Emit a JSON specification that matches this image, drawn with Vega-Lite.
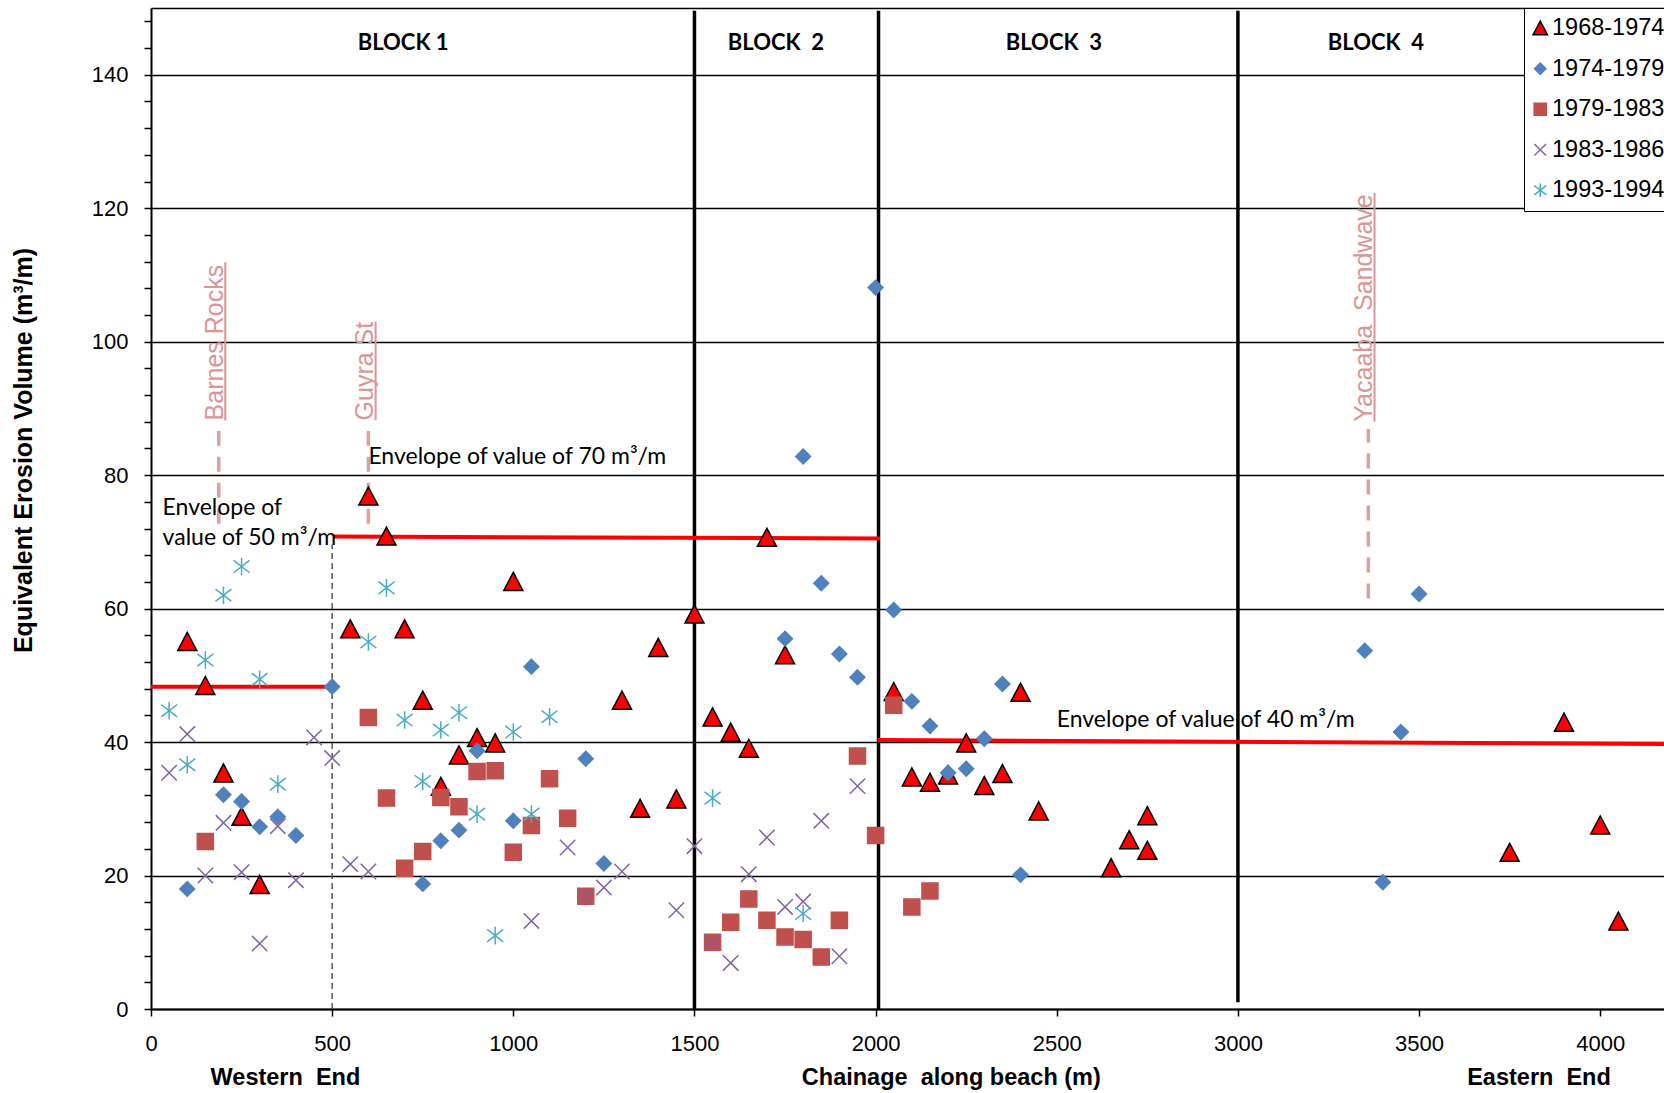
{
  "$schema": "https://vega.github.io/schema/vega-lite/v6.json",
  "width": 1513,
  "height": 1001,
  "autosize": {"type": "none"},
  "padding": {"left": 151, "top": 8, "right": 0, "bottom": 84},
  "background": "white",
  "config": {
    "view": {"stroke": null},
    "legend": {
      "labelFont": "Liberation Sans",
      "labelFontSize": 23.5,
      "labelColor": "black",
      "symbolSize": 230,
      "symbolStrokeWidth": 1.5,
      "symbolOpacity": 1,
      "symbolOffset": -4,
      "padding": 8.5,
      "rowPadding": 15.5,
      "labelOffset": 0,
      "fillColor": "white",
      "strokeColor": "black",
      "labelLimit": 300
    }
  },
  "encoding": {
    "x": {
      "field": "x",
      "type": "quantitative",
      "scale": {"domain": [0, 4176], "nice": false, "zero": false},
      "axis": {
        "title": null,
        "values": [0, 500, 1000, 1500, 2000, 2500, 3000, 3500, 4000],
        "format": "d",
        "grid": false,
        "tickSize": 7,
        "tickWidth": 1.5,
        "tickColor": "black",
        "domainColor": "black",
        "domainWidth": 2,
        "labelFont": "Liberation Sans",
        "labelFontSize": 22,
        "labelColor": "black",
        "labelPadding": 17,
        "labelFlush": false,
        "labelOverlap": false
      }
    },
    "y": {
      "field": "y",
      "type": "quantitative",
      "scale": {"domain": [0, 150], "nice": false, "zero": false},
      "axis": {
        "title": "Equivalent Erosion Volume (m³/m)",
        "titleFont": "Liberation Sans",
        "titleFontWeight": "bold",
        "titleFontSize": 25,
        "titleColor": "black",
        "titleAngle": 270,
        "titleX": -120,
        "titleY": 442,
        "titleAlign": "center",
        "titleBaseline": "alphabetic",
        "values": [0,4,8,12,16,20,24,28,32,36,40,44,48,52,56,60,64,68,72,76,80,84,88,92,96,100,104,108,112,116,120,124,128,132,136,140,144,148,150],
        "labelExpr": "datum.value % 20 === 0 ? datum.label : ''",
        "grid": true,
        "gridColor": "black",
        "gridWidth": 1.5,
        "gridOpacity": {"condition": {"test": "datum.value % 20 === 0 || datum.value === 150", "value": 1}, "value": 0},
        "tickSize": 7,
        "tickWidth": 1.5,
        "tickColor": "black",
        "tickOpacity": {"condition": {"test": "datum.value === 150", "value": 0}, "value": 1},
        "domainColor": "black",
        "domainWidth": 2,
        "labelFont": "Liberation Sans",
        "labelFontSize": 22,
        "labelColor": "black",
        "labelPadding": 16,
        "labelFlush": false,
        "labelOverlap": false
      }
    }
  },
  "layer": [
    {
      "data": {"values": [
        {"x": 1500, "y": 0, "y2": 149.6},
        {"x": 2008, "y": 0, "y2": 149.6},
        {"x": 3000, "y": 1, "y2": 149.6}
      ]},
      "mark": {"type": "rule", "color": "black", "strokeWidth": 3.5},
      "encoding": {"y2": {"field": "y2"}}
    },
    {
      "data": {"values": [
        {"x": 500, "y": 0, "y2": 69.6}
      ]},
      "mark": {"type": "rule", "color": "#555555", "strokeWidth": 1.5, "strokeDash": [6, 4]},
      "encoding": {"y2": {"field": "y2"}}
    },
    {
      "data": {"values": [
        {"x": 187, "y": 72.7, "y2": 86.6},
        {"x": 600, "y": 72.7, "y2": 86.6},
        {"x": 3360, "y": 61.5, "y2": 86.9}
      ]},
      "mark": {"type": "rule", "color": "#DDA0A0", "strokeWidth": 3.5, "strokeDash": [15, 11]},
      "encoding": {"y2": {"field": "y2"}}
    },
    {
      "data": {"values": [
        {"x": 205, "y": 88.2, "y2": 111.9},
        {"x": 620, "y": 88.2, "y2": 103.0},
        {"x": 3377, "y": 88.0, "y2": 122.3}
      ]},
      "mark": {"type": "rule", "color": "#DA9694", "strokeWidth": 2},
      "encoding": {"y2": {"field": "y2"}}
    },
    {
      "data": {"values": [
        {"seg": "a", "x": 0, "y": 48.3},
        {"seg": "a", "x": 489, "y": 48.3},
        {"seg": "b", "x": 504, "y": 70.8},
        {"seg": "b", "x": 2012, "y": 70.5},
        {"seg": "c", "x": 2006, "y": 40.3},
        {"seg": "c", "x": 4176, "y": 39.7}
      ]},
      "mark": {"type": "line", "color": "#FF0000", "strokeWidth": 4},
      "encoding": {"detail": {"field": "seg", "type": "nominal"}}
    },
    {
      "data": {"values": [
        {"x": 199, "y": 88.2, "label": "Barnes Rocks"},
        {"x": 613, "y": 88.2, "label": "Guyra St"},
        {"x": 3370, "y": 88.0, "label": "Yacaaba \u00a0Sandwave"}
      ]},
      "mark": {"type": "text", "angle": 270, "align": "left", "baseline": "alphabetic", "font": "Liberation Sans", "fontSize": 25, "color": "#DA9694"},
      "encoding": {"text": {"field": "label"}}
    },
    {
      "data": {"values": [
        {"x": 600, "y": 81.7, "label": "Envelope of value of 70 m³/m"},
        {"x": 32, "y": 74.0, "label": "Envelope of"},
        {"x": 32, "y": 69.5, "label": "value of 50 m³/m"},
        {"x": 2500, "y": 42.2, "label": "Envelope of value of 40 m³/m"}
      ]},
      "mark": {"type": "text", "align": "left", "baseline": "alphabetic", "font": "Lato", "fontSize": 23, "color": "black"},
      "encoding": {"text": {"field": "label"}}
    },
    {
      "data": {"values": [
        {"x": 696, "y": 144.8, "label": "BLOCK 1"},
        {"x": 1725, "y": 144.8, "label": "BLOCK \u00a02"},
        {"x": 2492, "y": 144.8, "label": "BLOCK \u00a03"},
        {"x": 3381, "y": 144.8, "label": "BLOCK \u00a04"}
      ]},
      "mark": {"type": "text", "align": "center", "baseline": "middle", "font": "Lato", "fontWeight": "bold", "fontSize": 22, "color": "black"},
      "encoding": {"text": {"field": "label"}}
    },
    {
      "data": {"values": [
        {"x": 371, "y": -11.4, "label": "Western \u00a0End"},
        {"x": 2209, "y": -11.4, "label": "Chainage \u00a0along beach (m)"},
        {"x": 3831, "y": -11.4, "label": "Eastern \u00a0End"}
      ]},
      "mark": {"type": "text", "align": "center", "baseline": "alphabetic", "font": "Liberation Sans", "fontWeight": "bold", "fontSize": 23.5, "color": "black"},
      "encoding": {"text": {"field": "label"}}
    },
    {
      "data": {"values": [
        {"s": "1968-1974", "x": 100, "y": 55.0},
        {"s": "1968-1974", "x": 150, "y": 48.4},
        {"s": "1968-1974", "x": 200, "y": 35.3},
        {"s": "1968-1974", "x": 250, "y": 28.8},
        {"s": "1968-1974", "x": 300, "y": 18.6},
        {"s": "1968-1974", "x": 550, "y": 56.9},
        {"s": "1968-1974", "x": 600, "y": 76.8},
        {"s": "1968-1974", "x": 650, "y": 70.8},
        {"s": "1968-1974", "x": 700, "y": 56.9},
        {"s": "1968-1974", "x": 750, "y": 46.2},
        {"s": "1968-1974", "x": 800, "y": 33.3},
        {"s": "1968-1974", "x": 850, "y": 38.0},
        {"s": "1968-1974", "x": 900, "y": 40.6},
        {"s": "1968-1974", "x": 950, "y": 39.8},
        {"s": "1968-1974", "x": 1000, "y": 64.0},
        {"s": "1968-1974", "x": 1300, "y": 46.2},
        {"s": "1968-1974", "x": 1350, "y": 30.0},
        {"s": "1968-1974", "x": 1400, "y": 54.1},
        {"s": "1968-1974", "x": 1450, "y": 31.4},
        {"s": "1968-1974", "x": 1500, "y": 59.1},
        {"s": "1968-1974", "x": 1550, "y": 43.7},
        {"s": "1968-1974", "x": 1600, "y": 41.4},
        {"s": "1968-1974", "x": 1650, "y": 39.0},
        {"s": "1968-1974", "x": 1700, "y": 70.6},
        {"s": "1968-1974", "x": 1750, "y": 53.0},
        {"s": "1968-1974", "x": 2050, "y": 47.5},
        {"s": "1968-1974", "x": 2100, "y": 34.7},
        {"s": "1968-1974", "x": 2150, "y": 33.9},
        {"s": "1968-1974", "x": 2200, "y": 35.0},
        {"s": "1968-1974", "x": 2250, "y": 39.8},
        {"s": "1968-1974", "x": 2300, "y": 33.4},
        {"s": "1968-1974", "x": 2350, "y": 35.2},
        {"s": "1968-1974", "x": 2400, "y": 47.4},
        {"s": "1968-1974", "x": 2450, "y": 29.6},
        {"s": "1968-1974", "x": 2650, "y": 21.1},
        {"s": "1968-1974", "x": 2700, "y": 25.3},
        {"s": "1968-1974", "x": 2750, "y": 28.9},
        {"s": "1968-1974", "x": 2750, "y": 23.7},
        {"s": "1968-1974", "x": 3750, "y": 23.4},
        {"s": "1968-1974", "x": 3900, "y": 42.9},
        {"s": "1968-1974", "x": 4000, "y": 27.5},
        {"s": "1968-1974", "x": 4050, "y": 13.1},
        {"s": "1974-1979", "x": 100, "y": 18.0},
        {"s": "1974-1979", "x": 200, "y": 32.1},
        {"s": "1974-1979", "x": 250, "y": 31.1},
        {"s": "1974-1979", "x": 300, "y": 27.3},
        {"s": "1974-1979", "x": 350, "y": 28.8},
        {"s": "1974-1979", "x": 400, "y": 26.0},
        {"s": "1974-1979", "x": 500, "y": 48.3},
        {"s": "1974-1979", "x": 750, "y": 18.75},
        {"s": "1974-1979", "x": 800, "y": 25.2},
        {"s": "1974-1979", "x": 850, "y": 26.8},
        {"s": "1974-1979", "x": 900, "y": 38.7},
        {"s": "1974-1979", "x": 1000, "y": 28.2},
        {"s": "1974-1979", "x": 1050, "y": 51.3},
        {"s": "1974-1979", "x": 1200, "y": 37.5},
        {"s": "1974-1979", "x": 1250, "y": 21.8},
        {"s": "1974-1979", "x": 1750, "y": 55.5},
        {"s": "1974-1979", "x": 1800, "y": 82.8},
        {"s": "1974-1979", "x": 1850, "y": 63.8},
        {"s": "1974-1979", "x": 1900, "y": 53.2},
        {"s": "1974-1979", "x": 1950, "y": 49.7},
        {"s": "1974-1979", "x": 2000, "y": 108.1},
        {"s": "1974-1979", "x": 2050, "y": 59.8},
        {"s": "1974-1979", "x": 2100, "y": 46.1},
        {"s": "1974-1979", "x": 2150, "y": 42.4},
        {"s": "1974-1979", "x": 2200, "y": 35.4},
        {"s": "1974-1979", "x": 2250, "y": 36.0},
        {"s": "1974-1979", "x": 2300, "y": 40.5},
        {"s": "1974-1979", "x": 2350, "y": 48.7},
        {"s": "1974-1979", "x": 2400, "y": 20.1},
        {"s": "1974-1979", "x": 3350, "y": 53.7},
        {"s": "1974-1979", "x": 3400, "y": 19.0},
        {"s": "1974-1979", "x": 3450, "y": 41.5},
        {"s": "1974-1979", "x": 3500, "y": 62.2},
        {"s": "1979-1983", "x": 150, "y": 25.1},
        {"s": "1979-1983", "x": 600, "y": 43.7},
        {"s": "1979-1983", "x": 650, "y": 31.6},
        {"s": "1979-1983", "x": 700, "y": 21.1},
        {"s": "1979-1983", "x": 750, "y": 23.6},
        {"s": "1979-1983", "x": 800, "y": 31.7},
        {"s": "1979-1983", "x": 850, "y": 30.3},
        {"s": "1979-1983", "x": 900, "y": 35.6},
        {"s": "1979-1983", "x": 950, "y": 35.7},
        {"s": "1979-1983", "x": 1000, "y": 23.5},
        {"s": "1979-1983", "x": 1050, "y": 27.5},
        {"s": "1979-1983", "x": 1100, "y": 34.5},
        {"s": "1979-1983", "x": 1150, "y": 28.6},
        {"s": "1979-1983", "x": 1200, "y": 16.9},
        {"s": "1979-1983", "x": 1550, "y": 10.0},
        {"s": "1979-1983", "x": 1600, "y": 13.0},
        {"s": "1979-1983", "x": 1650, "y": 16.5},
        {"s": "1979-1983", "x": 1700, "y": 13.3},
        {"s": "1979-1983", "x": 1750, "y": 10.8},
        {"s": "1979-1983", "x": 1800, "y": 10.4},
        {"s": "1979-1983", "x": 1850, "y": 7.8},
        {"s": "1979-1983", "x": 1900, "y": 13.3},
        {"s": "1979-1983", "x": 1950, "y": 37.9},
        {"s": "1979-1983", "x": 2000, "y": 26.0},
        {"s": "1979-1983", "x": 2050, "y": 45.5},
        {"s": "1979-1983", "x": 2100, "y": 15.3},
        {"s": "1979-1983", "x": 2150, "y": 17.7},
        {"s": "1983-1986", "x": 50, "y": 35.4},
        {"s": "1983-1986", "x": 100, "y": 41.2},
        {"s": "1983-1986", "x": 150, "y": 20.0},
        {"s": "1983-1986", "x": 200, "y": 27.9},
        {"s": "1983-1986", "x": 250, "y": 20.5},
        {"s": "1983-1986", "x": 300, "y": 9.8},
        {"s": "1983-1986", "x": 350, "y": 27.4},
        {"s": "1983-1986", "x": 400, "y": 19.3},
        {"s": "1983-1986", "x": 450, "y": 40.7},
        {"s": "1983-1986", "x": 500, "y": 37.6},
        {"s": "1983-1986", "x": 550, "y": 21.7},
        {"s": "1983-1986", "x": 600, "y": 20.6},
        {"s": "1983-1986", "x": 1050, "y": 13.2},
        {"s": "1983-1986", "x": 1150, "y": 24.2},
        {"s": "1983-1986", "x": 1200, "y": 16.9},
        {"s": "1983-1986", "x": 1250, "y": 18.2},
        {"s": "1983-1986", "x": 1300, "y": 20.6},
        {"s": "1983-1986", "x": 1450, "y": 14.8},
        {"s": "1983-1986", "x": 1500, "y": 24.4},
        {"s": "1983-1986", "x": 1550, "y": 10.0},
        {"s": "1983-1986", "x": 1600, "y": 6.9},
        {"s": "1983-1986", "x": 1650, "y": 20.2},
        {"s": "1983-1986", "x": 1700, "y": 25.7},
        {"s": "1983-1986", "x": 1750, "y": 15.3},
        {"s": "1983-1986", "x": 1800, "y": 16.1},
        {"s": "1983-1986", "x": 1850, "y": 28.2},
        {"s": "1983-1986", "x": 1900, "y": 7.9},
        {"s": "1983-1986", "x": 1950, "y": 33.4},
        {"s": "1993-1994", "x": 50, "y": 44.7},
        {"s": "1993-1994", "x": 100, "y": 36.6},
        {"s": "1993-1994", "x": 150, "y": 52.3},
        {"s": "1993-1994", "x": 200, "y": 62.0},
        {"s": "1993-1994", "x": 250, "y": 66.3},
        {"s": "1993-1994", "x": 300, "y": 49.4},
        {"s": "1993-1994", "x": 350, "y": 33.7},
        {"s": "1993-1994", "x": 600, "y": 55.0},
        {"s": "1993-1994", "x": 650, "y": 63.1},
        {"s": "1993-1994", "x": 700, "y": 43.3},
        {"s": "1993-1994", "x": 750, "y": 34.1},
        {"s": "1993-1994", "x": 800, "y": 41.8},
        {"s": "1993-1994", "x": 850, "y": 44.4},
        {"s": "1993-1994", "x": 900, "y": 29.2},
        {"s": "1993-1994", "x": 950, "y": 11.0},
        {"s": "1993-1994", "x": 1000, "y": 41.5},
        {"s": "1993-1994", "x": 1050, "y": 29.2},
        {"s": "1993-1994", "x": 1100, "y": 43.8},
        {"s": "1993-1994", "x": 1550, "y": 31.6},
        {"s": "1993-1994", "x": 1800, "y": 14.3}
      ]},
      "mark": {"type": "point", "size": 400, "opacity": 1, "strokeWidth": 1.5},
      "encoding": {
        "shape": {
          "field": "s", "type": "nominal",
          "scale": {
            "domain": ["1968-1974", "1974-1979", "1979-1983", "1983-1986", "1993-1994"],
            "range": [
              "M0,-0.95L0.95,0.85L-0.95,0.85Z",
              "M0,-0.74L0.74,0L0,0.74L-0.74,0Z",
              "M-0.8,-0.8H0.8V0.8H-0.8Z",
              "M-0.77,-0.77L0.77,0.77M-0.77,0.77L0.77,-0.77",
              "M0,-0.88L0,0.88M-0.8,-0.62L0.8,0.62M-0.8,0.62L0.8,-0.62"
            ]
          },
          "legend": {"title": null, "orient": "none", "legendX": 1373, "legendY": 0}
        },
        "fill": {
          "field": "s", "type": "nominal",
          "scale": {
            "domain": ["1968-1974", "1974-1979", "1979-1983", "1983-1986", "1993-1994"],
            "range": ["#FF0000", "#4F81BD", "#C0504D", "transparent", "transparent"]
          },
          "legend": {"title": null, "orient": "none", "legendX": 1373, "legendY": 0}
        },
        "stroke": {
          "field": "s", "type": "nominal",
          "scale": {
            "domain": ["1968-1974", "1974-1979", "1979-1983", "1983-1986", "1993-1994"],
            "range": ["#000000", "#4F81BD", "#C0504D", "#8064A2", "#4BACC6"]
          },
          "legend": {"title": null, "orient": "none", "legendX": 1373, "legendY": 0}
        }
      }
    }
  ]
}
